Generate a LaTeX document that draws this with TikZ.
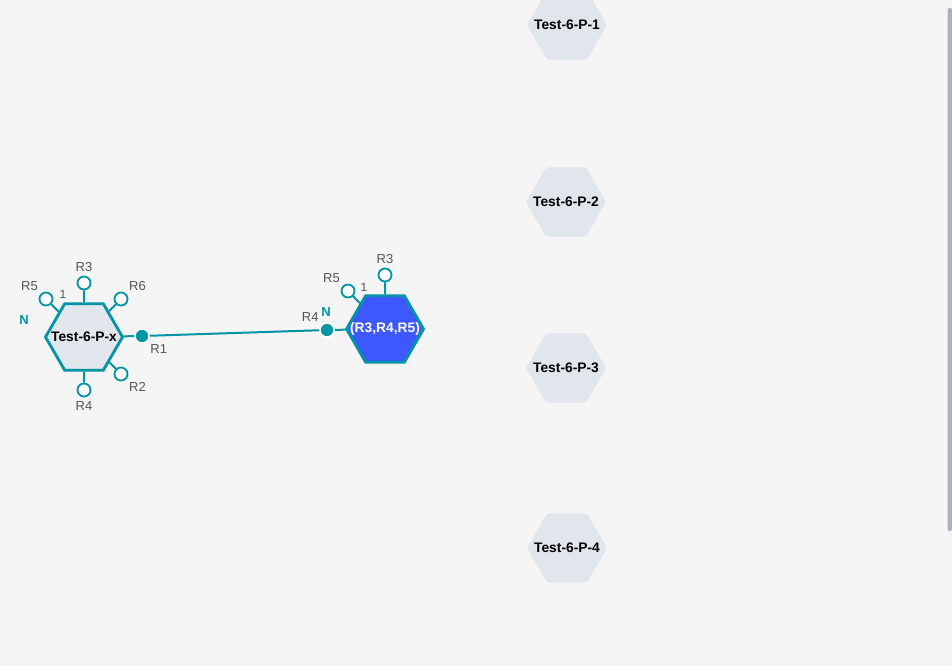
\documentclass[tikz,border=0pt]{standalone}
\usepackage{fontspec}
\setmainfont{Liberation Sans}
\usetikzlibrary{shapes.geometric}
\definecolor{bondcol}{RGB}{0,148,164}
\definecolor{hexgray}{RGB}{225,229,236}
\definecolor{corecol}{RGB}{61,88,254}
\definecolor{labgray}{RGB}{85,85,85}
\definecolor{backcol}{RGB}{245,245,245}
\definecolor{barcol}{RGB}{170,179,189}

\begin{document}
\begin{tikzpicture}[x=1pt,y=-1pt]
				\tikzstyle{every label}=[text=labgray, inner sep=1pt, label distance=2.5pt, font=\fontsize{13}{15}\selectfont]
				\tikzstyle{hextext}=[text=black, label distance=0pt, font=\bfseries\fontsize{13.8}{15}\selectfont]
				\tikzstyle{hexa}=[regular polygon, regular polygon sides=6, minimum size=77pt, inner sep=0pt, draw=bondcol, line width=2.8pt]
				\tikzstyle{grayhex}=[regular polygon, regular polygon sides=6, minimum size=80pt, inner sep=0pt, fill=hexgray, rounded corners=3pt]
				\tikzstyle{rgroup}=[circle, inner sep=0pt, minimum size=13pt, draw=bondcol, line width=1.8pt, fill=white]
				\tikzstyle{site}=[circle, inner sep=0pt, minimum size=14pt, draw=white, line width=1.5pt, fill=bondcol]
				\tikzstyle{bond}=[draw=bondcol, line width=2pt]
				\useasboundingbox (0,0) rectangle (952,666);
				\fill[backcol] (0,0) rectangle (952,666);
				\fill[barcol, rounded corners=1.5pt] (947.5,8) rectangle (952,531);
				% scaffold on the left
				\draw (84,337) node[hexa, fill=hexgray, label={[hextext]center:Test-6-P-x}] (px) {};
				\draw (84,283) node[rgroup, label=above:{R3}] (p3) {};
				\draw (121,299) node[rgroup, label=above right:{R6}] (p6) {};
				\draw (46,299) node[rgroup, label=above left:{R5}] (p5) {};
				\draw (121,374) node[rgroup, label=below right:{R2}] (p2) {};
				\draw (84,390) node[rgroup, label=below:{R4}] (p4) {};
				\draw (142,336) node[site, label=below right:{R1}] (p1) {};
				\node[text=labgray, font=\fontsize{12}{14}\selectfont] (pone) at (63,294) {1};
				\node[text=bondcol, font=\bfseries\fontsize{13}{15}\selectfont] (pn) at (24,320) {N};
				% core on the right
				\draw (385,329) node[hexa, fill=corecol, label={[hextext, text=white]center:(R3,R4,R5)}] (qx) {};
				\draw (385,275) node[rgroup, label=above:{R3}] (q3) {};
				\draw (348,291) node[rgroup, label=above left:{R5}] (q5) {};
				\draw (327,330) node[site, label=above left:{R4}] (q4) {};
				\node[text=labgray, font=\fontsize{12}{14}\selectfont] (qone) at (364,287) {1};
				\node[text=bondcol, font=\bfseries\fontsize{13}{15}\selectfont] (qn) at (326,312) {N};
				\draw[bond] (px) -- (p3) (px) -- (p6) (px) -- (p5) (px) -- (p2) (px) -- (p4) (px) -- (p1);
				\draw[bond] (qx) -- (q3) (qx) -- (q5) (qx) -- (q4);
				\draw[bond] (p1) -- (q4);
				% candidates
				\draw (567,25) node[grayhex, label={[hextext]center:Test-6-P-1}] (c1) {};
				\draw (566,202) node[grayhex, label={[hextext]center:Test-6-P-2}] (c2) {};
				\draw (566,368) node[grayhex, label={[hextext]center:Test-6-P-3}] (c3) {};
				\draw (567,548) node[grayhex, label={[hextext]center:Test-6-P-4}] (c4) {};
\end{tikzpicture}
\end{document}
